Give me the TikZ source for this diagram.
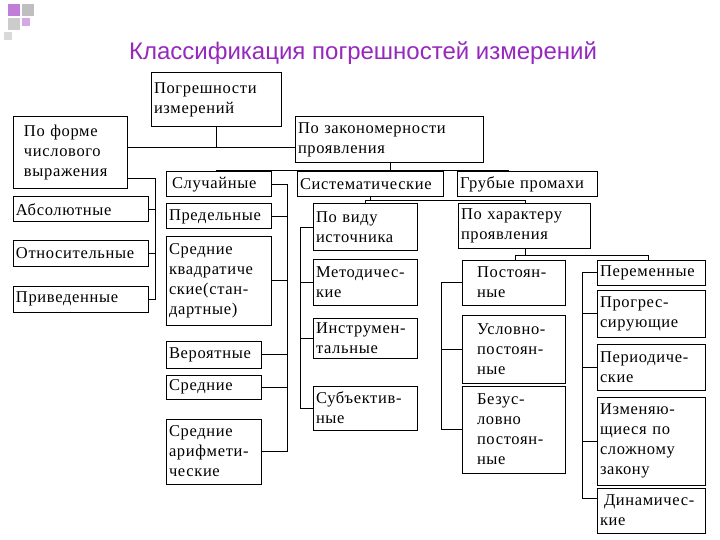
\documentclass[tikz,border=0pt]{standalone}
\usepackage{fontspec}
\setmainfont{Liberation Serif}[LetterSpace=4]
\newfontfamily\titlefont{Liberation Sans}
\definecolor{ttl}{RGB}{150,40,190}
\begin{document}
\begin{tikzpicture}[x=1pt,y=-1pt,
  bx/.style={draw,line width=1pt,inner sep=2pt,align=left,font=\fontsize{16.5}{20}\selectfont},
  ln/.style={line width=0.8pt}]
\useasboundingbox (0,0) rectangle (720,540);
\fill[white] (0,0) rectangle (720,540);
% decoration
\fill[ttl!60] (8,4) rectangle (20,16);
\fill[gray!50] (22,4) rectangle (34,16);
\fill[gray!40] (8,18) rectangle (20,30);
\fill[ttl!40] (22,18) rectangle (30,26);
\fill[gray!30] (4,32) rectangle (12,40);
\node[font=\titlefont\fontsize{24}{27}\selectfont,text=ttl] (title) at (363,53) {Классификация погрешностей измерений};
\newcommand\bxx[6]{\node[bx,minimum width=#4-#2,minimum height=#5-#3,text width=#4-#2-6,anchor=center] (#1) at ({(#2+#4)/2},{(#3+#5)/2}) {#6};}
\bxx{root}{151}{73}{281}{127}{Погрешности\\измерений}
\bxx{form}{13}{117}{127}{189}{\hspace*{8pt}По форме\\\hspace*{8pt}числового\\\hspace*{8pt}выражения}
\bxx{zak}{295}{117}{483}{163}{По закономерности\\проявления}
\bxx{sl}{166}{172}{271}{197}{\hspace*{3pt}Случайные}
\bxx{sys}{297}{172}{443}{197}{Систематические}
\bxx{gr}{457}{172}{597}{197}{Грубые промахи}
\bxx{abs}{13}{197}{148}{222}{Абсолютные}
\bxx{otn}{13}{240}{148}{266}{Относительные}
\bxx{prv}{13}{286}{148}{312}{Приведенные}
\bxx{pred}{166}{204}{271}{229}{Предельные}
\bxx{skv}{166}{236}{271}{325}{Средние\\квадратиче\\ские(стан-\\дартные)}
\bxx{ver}{166}{341}{261}{368}{Вероятные}
\bxx{sr}{166}{375}{261}{399}{Средние}
\bxx{sra}{166}{419}{261}{484}{Средние\\арифмети-\\ческие}
\bxx{vid}{313}{204}{417}{250}{По виду\\источника}
\bxx{met}{313}{259}{417}{305}{Методичес-\\кие}
\bxx{ins}{313}{318}{417}{358}{Инструмен-\\тальные}
\bxx{sub}{313}{386}{417}{430}{Субъектив-\\ные}
\bxx{har}{458}{204}{590}{248}{По характеру\\проявления}
\bxx{pos}{462}{260}{565}{305}{\hspace*{12pt}Постоян-\\\hspace*{12pt}ные}
\bxx{usl}{462}{315}{565}{383}{\hspace*{12pt}Условно-\\\hspace*{12pt}постоян-\\\hspace*{12pt}ные}
\bxx{bez}{462}{386}{565}{473}{\hspace*{12pt}Безус-\\\hspace*{12pt}ловно\\\hspace*{12pt}постоян-\\\hspace*{12pt}ные}
\bxx{per}{597}{260}{705}{285}{Переменные}
\bxx{pro}{597}{290}{705}{337}{Прогрес-\\сирующие}
\bxx{pd}{597}{344}{705}{390}{Периодиче-\\ские}
\bxx{izm}{597}{397}{705}{485}{Изменяю-\\щиеся по\\сложному\\закону}
\bxx{din}{597}{488}{705}{533}{\hspace*{4pt}Динамичес-\\кие}
% connectors
\coordinate (b1) at (216,147);
\draw[ln] (root.south) -- (b1);
\draw[ln] (form.east|-b1) -- (zak.west|-b1);
\coordinate (b2) at (390,170);
\draw[ln] (zak.south-|b2) -- (b2);
\draw[ln] (sl.north-|216,0) -- (216,170) -- (508,170) -- (gr.north-|508,0);
\draw[ln] (sys.north-|370,0) -- (370,170);
\coordinate (t1) at (155,0);
\draw[ln] ([yshift=-25pt]form.east) -- ([yshift=-25pt]form.east-|t1) |- (prv.east);
\draw[ln] (abs.east) -- (abs.east-|t1);
\draw[ln] (otn.east) -- (otn.east-|t1);
\coordinate (t2) at (287,0);
\draw[ln] (sl.east) -- (sl.east-|t2) |- (sra.east);
\foreach \n in {pred,skv,ver,sr} \draw[ln] (\n.east) -- (\n.east-|t2);
\draw[ln] (sys.south-|370,0) -- (370,200) coordinate (b3);
\draw[ln] (vid.north-|365,0) -- (365,200) -- (525,200) -- (har.north-|525,0);
\coordinate (t3) at (300,0);
\draw[ln] (vid.west) -- (vid.west-|t3) |- (sub.west);
\foreach \n in {met,ins} \draw[ln] (\n.west) -- (\n.west-|t3);
\draw[ln] (har.south-|525,0) -- (525,255) coordinate (b4);
\draw[ln] (pos.north-|515,0) -- (515,255) -- (648,255) -- (per.north-|648,0);
\coordinate (t4) at (441,0);
\draw[ln] (pos.west) -- (pos.west-|t4) |- (bez.west);
\draw[ln] (usl.west) -- (usl.west-|t4);
\coordinate (t5) at (582,0);
\draw[ln] (per.west) -- (per.west-|t5) |- ([yshift=12pt]din.west);
\foreach \n in {pro,pd,izm} \draw[ln] (\n.west) -- (\n.west-|t5);
\end{tikzpicture}
\end{document}
